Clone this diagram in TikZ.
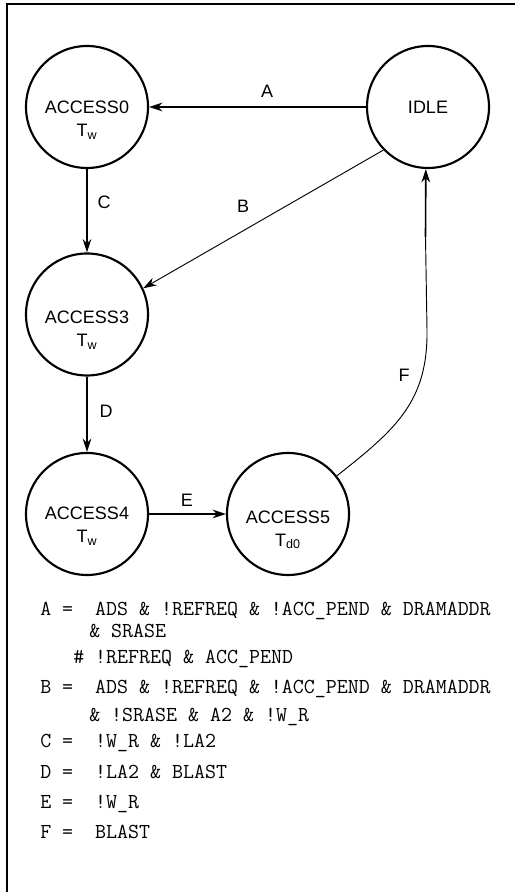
\documentclass[tikz,border=0pt]{standalone}
\usepackage{fontspec}
\setmainfont{Liberation Sans}
\usetikzlibrary{arrows.meta}

\tikzset{
  state/.style={draw, circle, line width=1.6pt, minimum size=91.5pt, inner sep=0pt, font=\fontsize{13.5}{17}\selectfont},
  statetext/.style={align=center, inner sep=0pt, font=\fontsize{13.5}{17}\selectfont},
  lbl/.style={inner sep=0pt, font=\fontsize{13.5}{17}\selectfont},
  trans/.style={line width=1.2pt, -{Stealth[length=10pt,width=6.5pt]}},
  thintrans/.style={line width=0.7pt},
  cond/.style={anchor=base west, inner sep=0pt, font=\ttfamily\fontsize{16}{18}\selectfont},
}

\begin{document}
\begin{tikzpicture}[x=0.75pt, y=0.75pt]
\useasboundingbox (0,0) rectangle (515,892);

% Frame (left and top edge)
\draw[line width=1.5pt] (6.7,0) -- (6.7,888) -- (515,888);

% States
\node[state] (idle) at (428,785) {IDLE};
\node[state] (acc0) at (87,785) {};
\node[statetext] (acc0txt) at (87,772) {ACCESS0\\T\textsubscript{w}};
\node[state] (acc3) at (87,577.5) {};
\node[statetext] (acc3txt) at (87,562) {ACCESS3\\T\textsubscript{w}};
\node[state] (acc4) at (87,378) {};
\node[statetext] (acc4txt) at (87,366) {ACCESS4\\T\textsubscript{w}};
\node[state] (acc5) at (288,378) {};
\node[statetext] (acc5txt) at (288,362) {ACCESS5\\T\textsubscript{d0}};

% Transitions
\draw[trans] (idle) -- (acc0);
\draw[trans] (acc0) -- (acc3);
\draw[thintrans, -{Stealth[length=10pt,width=6.5pt]}] (idle.224) -- (acc3.25);
\draw[trans] (acc3) -- (acc4);
\draw[trans] (acc4) -- (acc5);
\coordinate (fbend) at (425.5,655);
\draw[thintrans] (acc5.38) .. controls (395,462) and (428,490) .. (427,562) -- (fbend);
\draw[trans] (fbend) -- (idle.268);

% Transition labels
\node[lbl] (lblA) at (267,801) {A};
\node[lbl] (lblB) at (243,686) {B};
\node[lbl] (lblC) at (104,690) {C};
\node[lbl] (lblD) at (106,481) {D};
\node[lbl] (lblE) at (187,392) {E};
\node[lbl] (lblF) at (404,517) {F};

% Conditions
\node[cond] (condA) at (40,276) {A =~~ADS \& !REFREQ \& !ACC\_PEND \& DRAMADDR};
\node[cond] (condA2) at (89,254.5) {\& SRASE};
\node[cond] (condA3) at (73,228) {\# !REFREQ \& ACC\_PEND};
\node[cond] (condB) at (40,198.5) {B =~~ADS \& !REFREQ \& !ACC\_PEND \& DRAMADDR};
\node[cond] (condB2) at (89,170.2) {\& !SRASE \& A2 \& !W\_R};
\node[cond] (condC) at (40,144.5) {C =~~!W\_R \& !LA2};
\node[cond] (condD) at (40,113.8) {D =~~!LA2 \& BLAST};
\node[cond] (condE) at (40,83.5) {E =~~!W\_R};
\node[cond] (condF) at (40,53.5) {F =~~BLAST};
\end{tikzpicture}
\end{document}
